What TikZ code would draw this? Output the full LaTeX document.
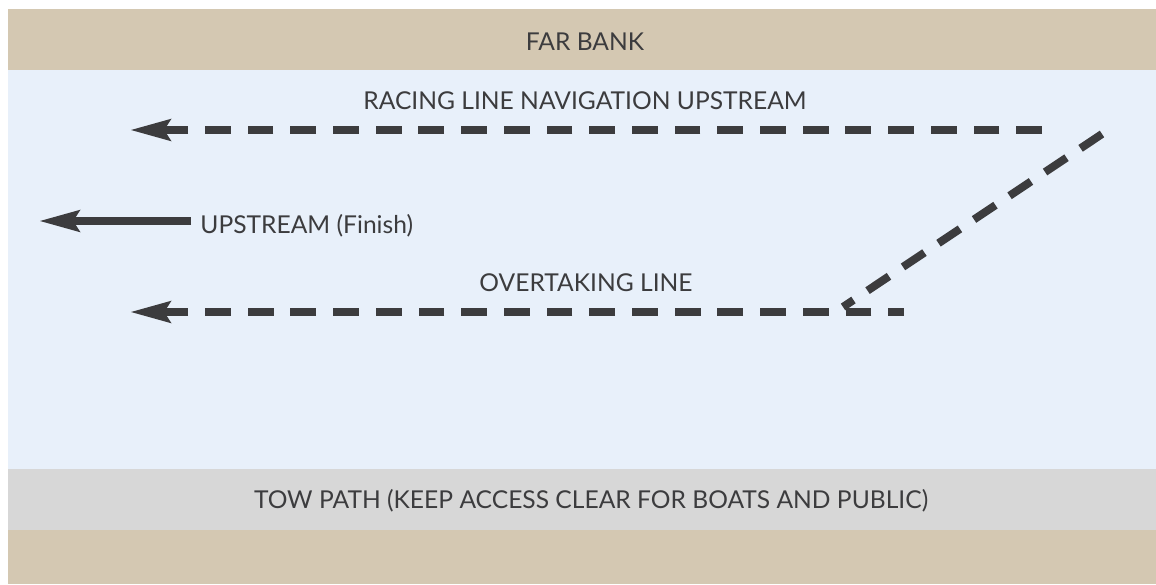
\documentclass[tikz,border=0pt]{standalone}
\usepackage{fontspec}
\setmainfont{Lato}
\usetikzlibrary{arrows.meta,positioning}

\definecolor{bank}{HTML}{D4C8B2}
\definecolor{water}{HTML}{E8F0FA}
\definecolor{towpath}{HTML}{D7D7D7}
\definecolor{ink}{HTML}{3C3C3E}

\begin{document}
\begin{tikzpicture}
[x=0.5pt, y=-0.5pt,
every node/.style={text=ink, inner sep=0pt, font=\fontsize{12.3}{14}\selectfont},
tip/.style={-{Stealth[length=20pt, width=10.4pt, inset=3pt]}},
lane/.style={draw=ink, line width=4pt, dash pattern=on 12.9pt off 8.45pt},
finish/.style={draw=ink, line width=4pt}
]
  \useasboundingbox (0,0) rectangle (1156,584);
  % banks, water and tow path
  \fill[bank]    (8,9)   rectangle (1156,70);
  \fill[water]   (8,70)  rectangle (1156,469);
  \fill[towpath] (8,469) rectangle (1156,530);
  \fill[bank]    (8,530) rectangle (1156,584);

  \node[anchor=base]	(farbank)	at (585,50)	{FAR BANK};
  \node[anchor=base]	(racing)	at (585,109)	{RACING LINE NAVIGATION UPSTREAM};
  \node[anchor=base]	(overtake)	at (586,291)	{OVERTAKING LINE};
  \node[anchor=base]	(towpath)	at (591,508)	{TOW PATH (KEEP ACCESS CLEAR FOR BOATS AND PUBLIC)};

  \coordinate (racingR) at (1042,130);
  \coordinate (racingL) at (130,130);
  \coordinate (finishR) at (191,221);
  \coordinate (finishL) at (39,221);
  \coordinate (overR)   at (904,312);
  \coordinate (overL)   at (130,312);
  \coordinate (swingT)  at (1102,134);
  \coordinate (swingB)  at (843,307);

  \node[anchor=base west] (finish) [right=4.5pt of finishR, yshift=-2.5pt] {UPSTREAM (Finish)};

  \path
  	(racingR) edge [lane,tip]               (racingL)
  	(finishR) edge [finish,tip]             (finishL)
  	(overR)   edge [lane,tip,dash phase=5pt] (overL)
  	(swingT)  edge [lane]                   (swingB)
    ;
\end{tikzpicture}
\end{document}
